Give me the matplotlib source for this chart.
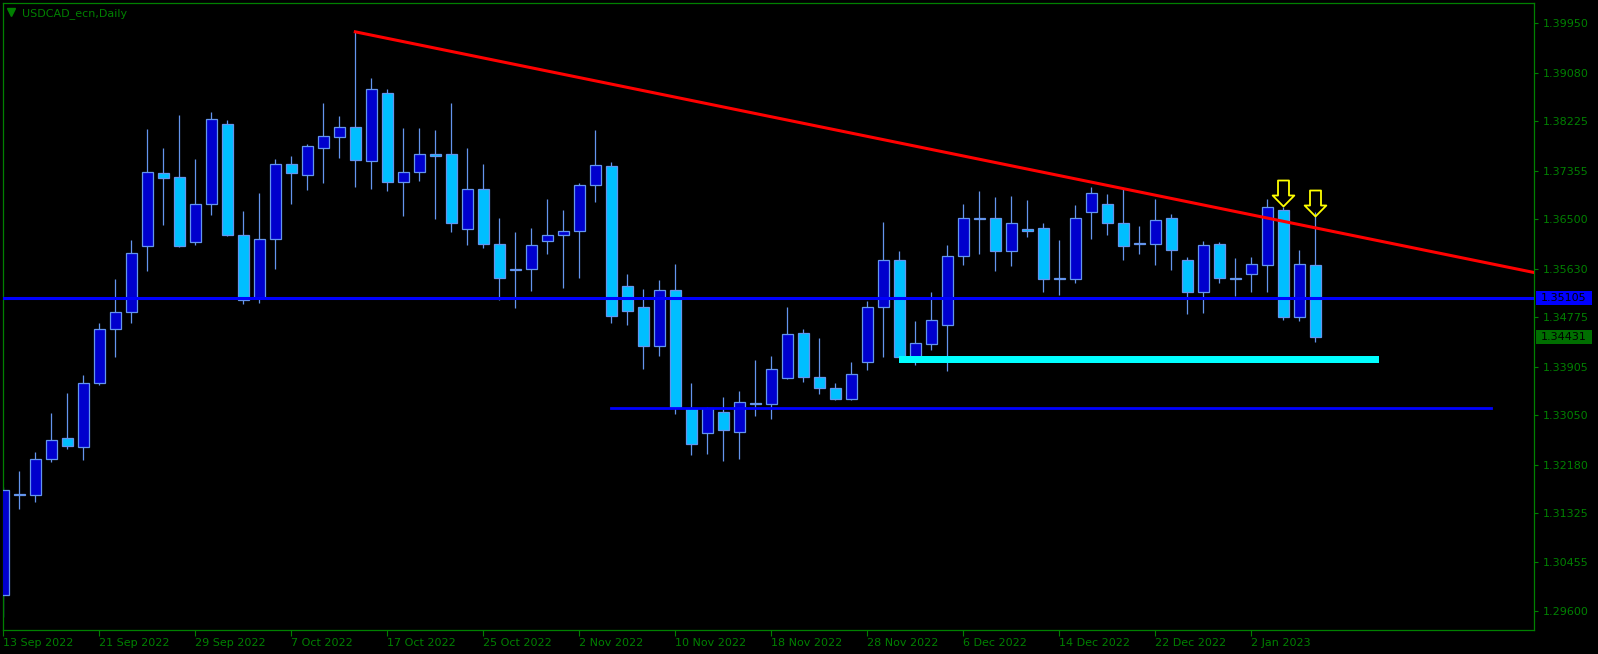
"""
USDCAD_ecn, Daily - MT4 style candlestick chart with drawn levels
"""
import numpy as np
import matplotlib
matplotlib.use("Agg")
import matplotlib.pyplot as plt
from matplotlib.path import Path
from matplotlib.patches import Rectangle
from matplotlib.transforms import blended_transform_factory

# ──────────────────────────────────────────────────────────────────────────────
# DATA  (daily bars)
# ------------------------------------------------------------------------------
opens = [1.2989, 1.3166, 1.3164, 1.3228, 1.3265, 1.3249, 1.3361, 1.3457, 1.3486, 1.3602,
         1.3731, 1.3724, 1.3610, 1.3676, 1.3818, 1.3622, 1.3511, 1.3616, 1.3747, 1.3727,
         1.3775, 1.3794, 1.3812, 1.3752, 1.3872, 1.3715, 1.3734, 1.3764, 1.3764, 1.3632,
         1.3704, 1.3607, 1.3560, 1.3562, 1.3611, 1.3622, 1.3630, 1.3710, 1.3743, 1.3532,
         1.3495, 1.3426, 1.3525, 1.3317, 1.3273, 1.3310, 1.3276, 1.3327, 1.3324, 1.3371,
         1.3449, 1.3372, 1.3352, 1.3334, 1.3398, 1.3495, 1.3578, 1.3408, 1.3431, 1.3464,
         1.3585, 1.3652, 1.3652, 1.3594, 1.3632, 1.3634, 1.3544, 1.3544, 1.3662, 1.3676,
         1.3643, 1.3608, 1.3606, 1.3652, 1.3578, 1.3521, 1.3606, 1.3546, 1.3554, 1.3570,
         1.3667, 1.3477, 1.3569]
highs = [1.3178, 1.3206, 1.3240, 1.3309, 1.3344, 1.3376, 1.3467, 1.3545, 1.3614, 1.3809,
         1.3775, 1.3834, 1.3756, 1.3839, 1.3824, 1.3665, 1.3696, 1.3756, 1.3762, 1.3783,
         1.3855, 1.3832, 1.3979, 1.3898, 1.3880, 1.3811, 1.3811, 1.3807, 1.3855, 1.3775,
         1.3748, 1.3652, 1.3627, 1.3634, 1.3685, 1.3667, 1.3713, 1.3808, 1.3750, 1.3554,
         1.3527, 1.3543, 1.3571, 1.3361, 1.3320, 1.3337, 1.3347, 1.3402, 1.3409, 1.3495,
         1.3456, 1.3440, 1.3361, 1.3399, 1.3506, 1.3645, 1.3594, 1.3471, 1.3522, 1.3605,
         1.3677, 1.3700, 1.3689, 1.3691, 1.3684, 1.3644, 1.3613, 1.3675, 1.3706, 1.3694,
         1.3703, 1.3638, 1.3686, 1.3659, 1.3583, 1.3612, 1.3610, 1.3582, 1.3584, 1.3686,
         1.3672, 1.3596, 1.3663]
lows = [1.2950, 1.3139, 1.3152, 1.3223, 1.3245, 1.3226, 1.3358, 1.3408, 1.3467, 1.3558,
        1.3639, 1.3601, 1.3604, 1.3657, 1.3620, 1.3501, 1.3502, 1.3562, 1.3676, 1.3702,
        1.3714, 1.3758, 1.3706, 1.3704, 1.3699, 1.3656, 1.3718, 1.3651, 1.3628, 1.3605,
        1.3600, 1.3507, 1.3494, 1.3524, 1.3588, 1.3529, 1.3547, 1.3681, 1.3468, 1.3464,
        1.3387, 1.3409, 1.3307, 1.3235, 1.3237, 1.3225, 1.3227, 1.3304, 1.3299, 1.3368,
        1.3364, 1.3343, 1.3332, 1.3332, 1.3385, 1.3408, 1.3407, 1.3394, 1.3420, 1.3383,
        1.3569, 1.3588, 1.3559, 1.3568, 1.3618, 1.3521, 1.3517, 1.3538, 1.3615, 1.3623,
        1.3578, 1.3588, 1.3569, 1.3561, 1.3483, 1.3485, 1.3537, 1.3514, 1.3522, 1.3522,
        1.3473, 1.3470, 1.3433]
closes = [1.3174, 1.3164, 1.3228, 1.3261, 1.3251, 1.3361, 1.3456, 1.3486, 1.3590, 1.3733,
          1.3723, 1.3603, 1.3676, 1.3826, 1.3622, 1.3507, 1.3616, 1.3748, 1.3732, 1.3779,
          1.3796, 1.3812, 1.3755, 1.3880, 1.3715, 1.3733, 1.3764, 1.3762, 1.3643, 1.3704,
          1.3607, 1.3547, 1.3563, 1.3604, 1.3623, 1.3630, 1.3710, 1.3745, 1.3480, 1.3489,
          1.3426, 1.3525, 1.3319, 1.3254, 1.3317, 1.3278, 1.3328, 1.3325, 1.3387, 1.3447,
          1.3372, 1.3352, 1.3334, 1.3377, 1.3495, 1.3578, 1.3408, 1.3432, 1.3472, 1.3585,
          1.3652, 1.3651, 1.3594, 1.3643, 1.3630, 1.3544, 1.3546, 1.3653, 1.3696, 1.3643,
          1.3603, 1.3606, 1.3648, 1.3595, 1.3521, 1.3604, 1.3547, 1.3545, 1.3571, 1.3671,
          1.3477, 1.3571, 1.34431]

date_ticks  = [0, 6, 12, 18, 24, 30, 36, 42, 48, 54, 60, 66, 72, 78]
date_labels = ["13 Sep 2022", "21 Sep 2022", "29 Sep 2022", "7 Oct 2022", "17 Oct 2022",
               "25 Oct 2022", "2 Nov 2022", "10 Nov 2022", "18 Nov 2022", "28 Nov 2022",
               "6 Dec 2022", "14 Dec 2022", "22 Dec 2022", "2 Jan 2023"]
price_ticks = [1.39950, 1.39080, 1.38225, 1.37355, 1.36500, 1.35630, 1.34775,
               1.33905, 1.33050, 1.32180, 1.31325, 1.30455, 1.29600]

# drawn objects
trend_x, trend_y = [22, 95.7], [1.3980, 1.3556]      # red resistance trend line
level_main       = 1.35105                            # blue horizontal line
support_x, support_y = [38, 93], [1.3317, 1.3317]     # lower blue line
zone_x, zone_lo, zone_hi = [56, 86], 1.3397, 1.3409   # cyan box
arrow_x, arrow_y = [80, 82], [1.3696, 1.3679]         # yellow arrows
last_price       = 1.34431

# ──────────────────────────────────────────────────────────────────────────────
# STYLE
# ------------------------------------------------------------------------------
GREEN   = "#008000"
BULL    = "#0000CD"
BEAR    = "#00BFFF"
OUTLINE = "#6495ED"

fig = plt.figure(figsize=(15.98, 6.54), dpi=100, facecolor="black")
ax = fig.add_axes([0.00169, 0.0367, 0.95826, 0.95917], facecolor="black")

o, h, l, c = map(np.array, (opens, highs, lows, closes))
x = np.arange(len(o))
up = c >= o

# candles
ax.vlines(x, l, h, color=OUTLINE, lw=0.9, zorder=2)
ax.bar(x, np.abs(c - o), bottom=np.minimum(o, c), width=0.66,
       color=np.where(up, BULL, BEAR), edgecolor=OUTLINE, linewidth=0.9, zorder=3)

# lines & zones
ax.plot(trend_x, trend_y, color="#FF0000", lw=2.2, zorder=5)
ax.axhline(level_main, color="#0000FF", lw=2.2, zorder=5)
ax.plot(support_x, support_y, color="#0000FF", lw=2.0, zorder=5)
ax.add_patch(Rectangle((zone_x[0], zone_lo), zone_x[1] - zone_x[0], zone_hi - zone_lo,
                       facecolor="#00FFFF", edgecolor="none", zorder=4))

# hollow down arrows
arrow = Path([(-5.5, 13), (5.5, 13), (5.5, -2), (10.85, -2), (0, -13),
              (-10.85, -2), (-5.5, -2), (-5.5, 13)], closed=True)
ax.plot(arrow_x, arrow_y, ls="none", marker=arrow, markersize=18.7,
        mfc="none", mec="#FFFF00", mew=1.3, zorder=6)

# ──────────────────────────────────────────────────────────────────────────────
# AXES
# ------------------------------------------------------------------------------
ax.set_xlim(-0.04, 95.67)
ax.set_ylim(1.29266, 1.40313)

ax.set_xticks(date_ticks)
ax.set_xticklabels(date_labels, ha="left")
ax.yaxis.tick_right()
ax.set_yticks(price_ticks)
ax.set_yticklabels([f"{p:.5f}" for p in price_ticks])
ax.tick_params(axis="x", colors=GREEN, length=4, width=0.8, pad=2, labelsize=8)
ax.tick_params(axis="y", colors=GREEN, length=3, width=0.8, pad=3.5, labelsize=8)
for sp in ax.spines.values():
    sp.set_color(GREEN); sp.set_linewidth(0.9)

# price boxes on the scale
tr = blended_transform_factory(ax.transAxes, ax.transData)
for val, bg in [(level_main, "#0000FF"), (last_price, "#006E00")]:
    ax.add_patch(Rectangle((1.0013, val - 0.00124), 0.0366, 0.00248, transform=tr,
                           facecolor=bg, edgecolor="none", clip_on=False, zorder=7))
    ax.text(1.0046, val, f"{val:.5f}", transform=tr, color="black", fontsize=8,
            va="center", ha="left", zorder=8, clip_on=False)

# title
ax.plot([0.0053], [0.9844], marker="v", markersize=6, color=GREEN,
        transform=ax.transAxes, clip_on=False)
ax.text(0.0124, 0.983, "USDCAD_ecn,Daily", transform=ax.transAxes, color=GREEN,
        fontsize=8, va="center", ha="left")

fig.savefig("out.png", dpi=100, facecolor="black")
